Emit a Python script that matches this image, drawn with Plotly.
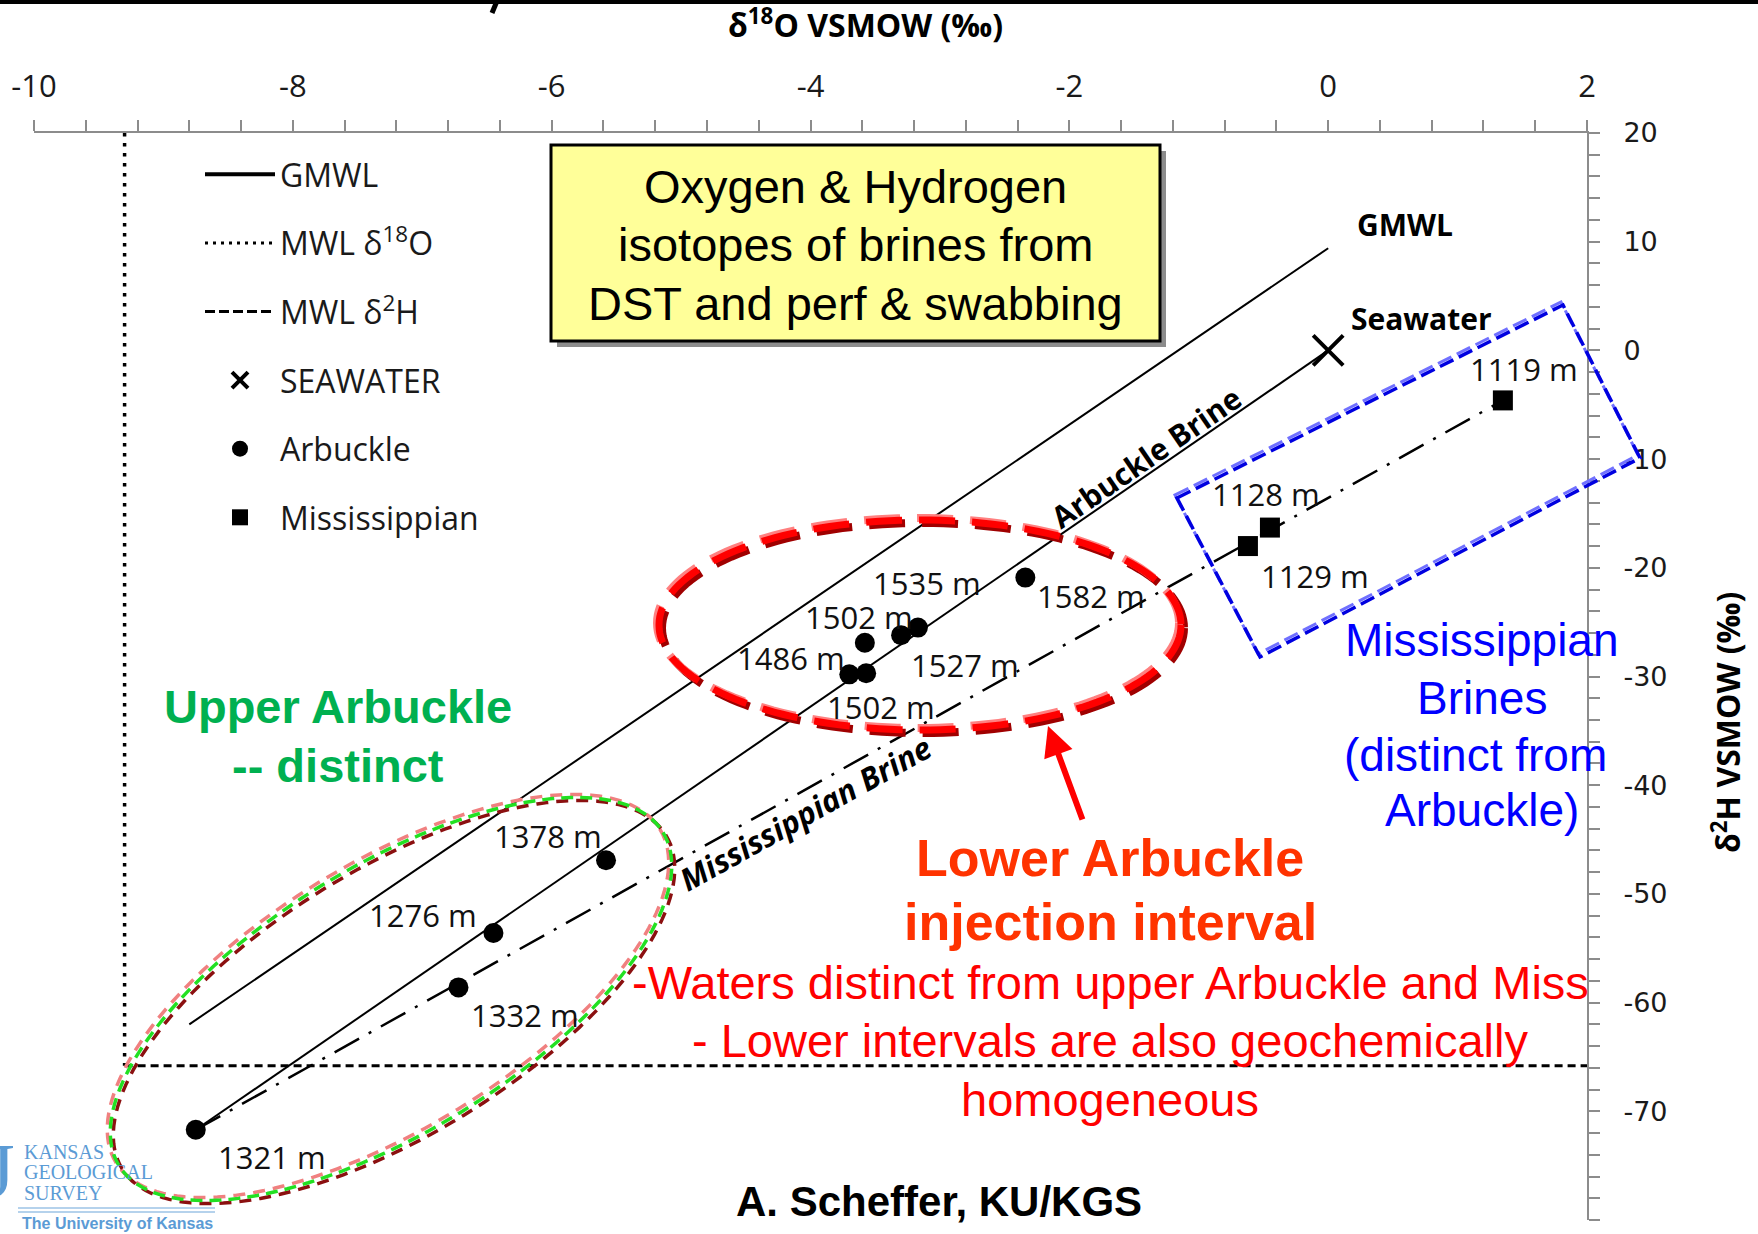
import math
import plotly.graph_objects as go

# ---------------- data (per mil, VSMOW) ----------------
seawater_d18o = [0.0]
seawater_d2h = [0.0]

arbuckle_depth = ["1321 m", "1332 m", "1276 m", "1378 m", "1486 m",
                  "1502 m", "1502 m", "1527 m", "1535 m", "1582 m"]
arbuckle_d18o = [-8.75, -6.72, -6.45, -5.58, -3.70, -3.57, -3.58, -3.30, -3.17, -2.34]
arbuckle_d2h = [-71.7, -58.6, -53.6, -46.9, -29.8, -29.7, -26.9, -26.2, -25.5, -20.9]

miss_depth = ["1119 m", "1128 m", "1129 m"]
miss_d18o = [1.35, -0.45, -0.62]
miss_d2h = [-4.6, -16.3, -18.0]

gmwl_d18o = [-8.8, 0.0]
gmwl_d2h = [-62.0, 9.4]

mwl_d18o = -9.3
mwl_d2h = -65.8

x_tickvals = [-10, -8, -6, -4, -2, 0, 2]
x_ticktext = ["-10", "-8", "-6", "-4", "-2", "0", "2"]
y_tickvals = [20, 10, 0, -10, -20, -30, -40, -50, -60, -70, -80]
y_ticktext = ["20", "10", "0", "-10", "-20", "-30", "-40", "-50", "-60", "-70", "-80"]

X_RANGE = [-10, 2]
Y_RANGE = [-80, 20]

# ---------------- page geometry ----------------
W, H = 1758, 1234
M_L, M_R, M_T, M_B = 34, 171, 133, 14
PLOT_W = W - M_L - M_R
PLOT_H = H - M_T - M_B
PX_PER_X = PLOT_W / (X_RANGE[1] - X_RANGE[0])
PX_PER_Y = PLOT_H / (Y_RANGE[1] - Y_RANGE[0])


def to_paper(px, py):
    return (px - M_L) / PLOT_W, 1 - (py - M_T) / PLOT_H


def screen_angle(x0, y0, x1, y1):
    return -math.degrees(math.atan2((y1 - y0) * PX_PER_Y, (x1 - x0) * PX_PER_X))


fig = go.Figure()

# ---------------- reference lines ----------------
fig.add_trace(go.Scatter(x=gmwl_d18o, y=gmwl_d2h, mode="lines",
                         line=dict(color="black", width=2), showlegend=False, hoverinfo="skip"))
fig.add_trace(go.Scatter(x=[mwl_d18o, mwl_d18o], y=[Y_RANGE[1], mwl_d2h], mode="lines",
                         line=dict(color="black", width=3.5, dash="3.5px,6.5px"),
                         showlegend=False, hoverinfo="skip"))
fig.add_trace(go.Scatter(x=[mwl_d18o, X_RANGE[1]], y=[mwl_d2h, mwl_d2h], mode="lines",
                         line=dict(color="black", width=3, dash="8px,5px"),
                         showlegend=False, hoverinfo="skip"))

# mixing lines from the deepest Arbuckle sample
arb_brine_x = [arbuckle_d18o[0], seawater_d18o[0]]
arb_brine_y = [arbuckle_d2h[0], seawater_d2h[0]]
miss_brine_x = [arbuckle_d18o[0], miss_d18o[0]]
miss_brine_y = [arbuckle_d2h[0], miss_d2h[0]]
fig.add_trace(go.Scatter(x=arb_brine_x, y=arb_brine_y, mode="lines",
                         line=dict(color="black", width=2), showlegend=False, hoverinfo="skip"))
fig.add_trace(go.Scatter(x=miss_brine_x, y=miss_brine_y, mode="lines",
                         line=dict(color="black", width=2.5, dash="28px,11px,3px,11px"),
                         showlegend=False, hoverinfo="skip"))

# ---------------- legend entries ----------------
fig.add_trace(go.Scatter(x=[None], y=[None], mode="lines", name="GMWL", legendgroup="a",
                         line=dict(color="black", width=4)))
fig.add_trace(go.Scatter(x=[None], y=[None], mode="lines", name="MWL δ<sup>18</sup>O", legendgroup="b",
                         line=dict(color="black", width=3, dash="3px,5px")))
fig.add_trace(go.Scatter(x=[None], y=[None], mode="lines", name="MWL δ<sup>2</sup>H", legendgroup="c",
                         line=dict(color="black", width=3, dash="10px,4px")))

# ---------------- samples ----------------
fig.add_trace(go.Scatter(x=seawater_d18o, y=seawater_d2h, mode="markers", name="SEAWATER",
                         legendgroup="d",
                         marker=dict(symbol="x-thin", size=30, color="black",
                                     line=dict(color="black", width=4))))
fig.add_trace(go.Scatter(x=arbuckle_d18o, y=arbuckle_d2h, mode="markers", name="Arbuckle",
                         legendgroup="e", text=arbuckle_depth,
                         marker=dict(symbol="circle", size=20, color="black")))
fig.add_trace(go.Scatter(x=miss_d18o, y=miss_d2h, mode="markers", name="Mississippian",
                         legendgroup="f", text=miss_depth,
                         marker=dict(symbol="square", size=20, color="black")))

# depth labels, offset in pixels from their sample
arb_label_shift = [(76, -27), (67, -28), (-70, 18), (-58, 24), (-58, 16),
                   (15, -34), (-6, 26), (64, -30), (9, 45), (66, -18)]
miss_label_shift = [(21, 31), (-4, 34), (67, -30)]
LABEL_FONT = dict(family="Open Sans", size=31, color="#111111")
for xs, ys, names, shifts in [(arbuckle_d18o, arbuckle_d2h, arbuckle_depth, arb_label_shift),
                              (miss_d18o, miss_d2h, miss_depth, miss_label_shift)]:
    for xv, yv, name, (dx, dy) in zip(xs, ys, names, shifts):
        fig.add_annotation(x=xv, y=yv, text=name, showarrow=False, xshift=dx, yshift=dy,
                           font=LABEL_FONT)

# line names
LINE_FONT = dict(family="Open Sans", size=30, color="black")
fig.add_annotation(x=0.59, y=11.6, text="<b>GMWL</b>", showarrow=False, font=LINE_FONT)
fig.add_annotation(x=0.72, y=2.94, text="<b>Seawater</b>", showarrow=False, font=LINE_FONT)
fig.add_annotation(x=-1.41, y=-9.84, text="<b>Arbuckle Brine</b>", showarrow=False, font=LINE_FONT,
                   textangle=screen_angle(arb_brine_x[0], arb_brine_y[0], arb_brine_x[1], arb_brine_y[1]))
fig.add_annotation(x=-4.04, y=-42.55, text="<b><i>Mississippian Brine</i></b>", showarrow=False,
                   font=dict(family="Open Sans", size=31, color="black"),
                   textangle=screen_angle(miss_brine_x[0], miss_brine_y[0], miss_brine_x[1], miss_brine_y[1]))

# ---------------- outlines ----------------
shapes = []


def ellipse_path(cx, cy, a, b, theta_deg, dx=0.0, dy=0.0, n=160):
    t = math.radians(theta_deg)
    pts = []
    for k in range(n):
        s = 2 * math.pi * k / n
        ex, ey = a * math.cos(s), b * math.sin(s)
        px = cx + dx + ex * math.cos(t) + ey * math.sin(t)
        py = cy + dy - ex * math.sin(t) + ey * math.cos(t)
        pts.append(to_paper(px, py))
    return "M" + " L".join(f"{x:.5f},{y:.5f}" for x, y in pts) + " Z"


def poly_path(points, dx=0.0, dy=0.0):
    pts = [to_paper(px + dx, py + dy) for px, py in points]
    return "M" + " L".join(f"{x:.5f},{y:.5f}" for x, y in pts) + " Z"


def add_path(path, color, width, dash):
    shapes.append(dict(type="path", path=path, xref="paper", yref="paper",
                       line=dict(color=color, width=width, dash=dash), layer="above"))


# upper Arbuckle group
UPPER = dict(cx=391, cy=999, a=319, b=133, theta_deg=31.5)
add_path(ellipse_path(**UPPER, dx=-3, dy=-3), "#f08080", 3.5, "12px,8px")
add_path(ellipse_path(**UPPER, dx=3, dy=3), "#8b1010", 3.5, "12px,8px")
add_path(ellipse_path(**UPPER), "#22e022", 3.5, "12px,7px")

# lower Arbuckle group
LOWER = dict(cx=920, cy=625, a=261, b=105, theta_deg=0)
add_path(ellipse_path(**LOWER, dx=3, dy=3), "#a00000", 8, "36px,17px")
add_path(ellipse_path(**LOWER, dx=-2, dy=-2), "#ff8080", 8, "36px,17px")
add_path(ellipse_path(**LOWER), "#ff0000", 7, "36px,17px")

# Mississippian group
MISS_BOX = [(1177, 498), (1563, 305), (1640, 458), (1260, 657)]
add_path(poly_path(MISS_BOX, dx=-2, dy=-3), "#7070ff", 3, "15px,6px")
add_path(poly_path(MISS_BOX), "#0000e0", 3.5, "15px,6px")

# title box with shadow
bx0, by0 = to_paper(551, 145)
bx1, by1 = to_paper(1160, 341)
sx0, sy0 = to_paper(557, 151)
sx1, sy1 = to_paper(1166, 347)
shapes.append(dict(type="rect", xref="paper", yref="paper", x0=sx0, y0=sy0, x1=sx1, y1=sy1,
                   fillcolor="#8c8c8c", line=dict(width=0), layer="above"))
shapes.append(dict(type="rect", xref="paper", yref="paper", x0=bx0, y0=by0, x1=bx1, y1=by1,
                   fillcolor="#ffff99", line=dict(color="black", width=3), layer="above"))

# rule across the top edge
lx0, ly = to_paper(0, 2)
lx1, _ = to_paper(W, 2)
shapes.append(dict(type="line", xref="paper", yref="paper", x0=lx0, x1=lx1, y0=ly, y1=ly,
                   line=dict(color="black", width=4)))
dx0, dy0 = to_paper(497, 1)
dx1, dy1 = to_paper(492, 13)
shapes.append(dict(type="line", xref="paper", yref="paper", x0=dx0, x1=dx1, y0=dy0, y1=dy1,
                   line=dict(color="black", width=5)))

# logo rules
for ry in (1208, 1212):
    rx0, ryp = to_paper(18, ry)
    rx1, _ = to_paper(215, ry)
    shapes.append(dict(type="line", xref="paper", yref="paper", x0=rx0, x1=rx1, y0=ryp, y1=ryp,
                       line=dict(color="#9dc3e6", width=1.5)))


# ---------------- free text ----------------
def text_at(text, px, py, size, color="black", family="Liberation Sans", xanchor="center", angle=0):
    x, y = to_paper(px, py)
    fig.add_annotation(x=x, y=y, xref="paper", yref="paper", text=text, showarrow=False,
                       xanchor=xanchor, yanchor="middle", textangle=angle,
                       font=dict(family=family, size=size, color=color))


for line, py in zip(["Oxygen &amp; Hydrogen", "isotopes of brines from", "DST and perf &amp; swabbing"],
                    [186, 244.5, 303]):
    text_at(line, 855.5, py, 47)

for line, py in zip(["<b>Upper Arbuckle</b>", "<b>-- distinct</b>"], [706.5, 765]):
    text_at(line, 337.5, py, 47, color="#00b050")

for line, px, py in zip(["Mississippian", "Brines", "(distinct from", "Arbuckle)"],
                        [1482, 1482, 1475.5, 1482], [640, 697.5, 754.5, 810.5]):
    text_at(line, px, py, 46, color="#0000ff")

for line, py in zip(["<b>Lower Arbuckle</b>", "<b>injection interval</b>"], [858, 921.5]):
    text_at(line, 1110, py, 52, color="#ff3300")

for line, py in zip(["-Waters distinct from upper Arbuckle and Miss",
                     "- Lower intervals are also geochemically", "homogeneous"],
                    [982, 1040.5, 1099]):
    text_at(line, 1110, py, 47, color="#ff0000")

text_at("<b>A. Scheffer, KU/KGS</b>", 938.5, 1201, 42)

# axis titles
text_at("<b>δ<sup>18</sup>O VSMOW (‰)</b>", 866, 23, 32, family="Open Sans")
text_at("<b>δ<sup>2</sup>H VSMOW (‰)</b>", 1726, 723, 32, family="Open Sans", angle=-90)

# survey logo
LOGO = "#5b9bd5"
text_at("J", 17, 1170, 76, color=LOGO, family="Liberation Serif", xanchor="right")
text_at("KANSAS", 22, 1152, 20, color=LOGO, family="Liberation Serif", xanchor="left")
text_at("GEOLOGICAL", 22, 1172, 20, color=LOGO, family="Liberation Serif", xanchor="left")
text_at("SURVEY", 22, 1193, 20, color=LOGO, family="Liberation Serif", xanchor="left")
text_at("<b>The University of Kansas</b>", 20, 1223, 16, color=LOGO, xanchor="left")

# arrow pointing at the lower Arbuckle group
ax_, ay_ = to_paper(1048, 726)
fig.add_annotation(x=ax_, y=ay_, xref="paper", yref="paper", ax=35, ay=95, showarrow=True,
                   arrowhead=2, arrowsize=1.0, arrowwidth=6, arrowcolor="#ff0000", text="")

# ---------------- axes & layout ----------------
AXIS_GRAY = "#8c8c8c"
fig.update_layout(
    width=W, height=H,
    margin=dict(l=M_L, r=M_R, t=M_T, b=M_B, pad=0),
    paper_bgcolor="white", plot_bgcolor="white",
    shapes=shapes,
    showlegend=True,
    legend=dict(x=to_paper(200, 0)[0], y=to_paper(0, 147)[1], xanchor="left", yanchor="top",
                bgcolor="rgba(0,0,0,0)", borderwidth=0, itemwidth=70, tracegroupgap=24,
                traceorder="grouped",
                font=dict(family="Open Sans", size=32, color="#1a1a1a")),
    xaxis=dict(range=X_RANGE, side="top", showgrid=False, zeroline=False,
               showline=True, linecolor=AXIS_GRAY, linewidth=2,
               tickmode="array", tickvals=x_tickvals, ticktext=x_ticktext,
               ticks="outside", ticklen=11, tickwidth=1.5, tickcolor=AXIS_GRAY,
               ticklabelstandoff=11,
               minor=dict(tickmode="linear", tick0=0, dtick=0.4, ticks="outside",
                          ticklen=11, tickwidth=1.5, tickcolor=AXIS_GRAY, showgrid=False),
               tickfont=dict(family="Open Sans", size=31, color="#1a1a1a")),
    yaxis=dict(range=Y_RANGE, side="right", showgrid=False, zeroline=False,
               showline=True, linecolor=AXIS_GRAY, linewidth=2,
               tickmode="array", tickvals=y_tickvals, ticktext=y_ticktext,
               ticks="outside", ticklen=11, tickwidth=1.5, tickcolor=AXIS_GRAY,
               ticklabelstandoff=18,
               minor=dict(tickmode="linear", tick0=0, dtick=2, ticks="outside",
                          ticklen=11, tickwidth=1.5, tickcolor=AXIS_GRAY, showgrid=False),
               tickfont=dict(family="DejaVu Sans", size=27, color="#1a1a1a")),
)

fig.write_html("out.html")
